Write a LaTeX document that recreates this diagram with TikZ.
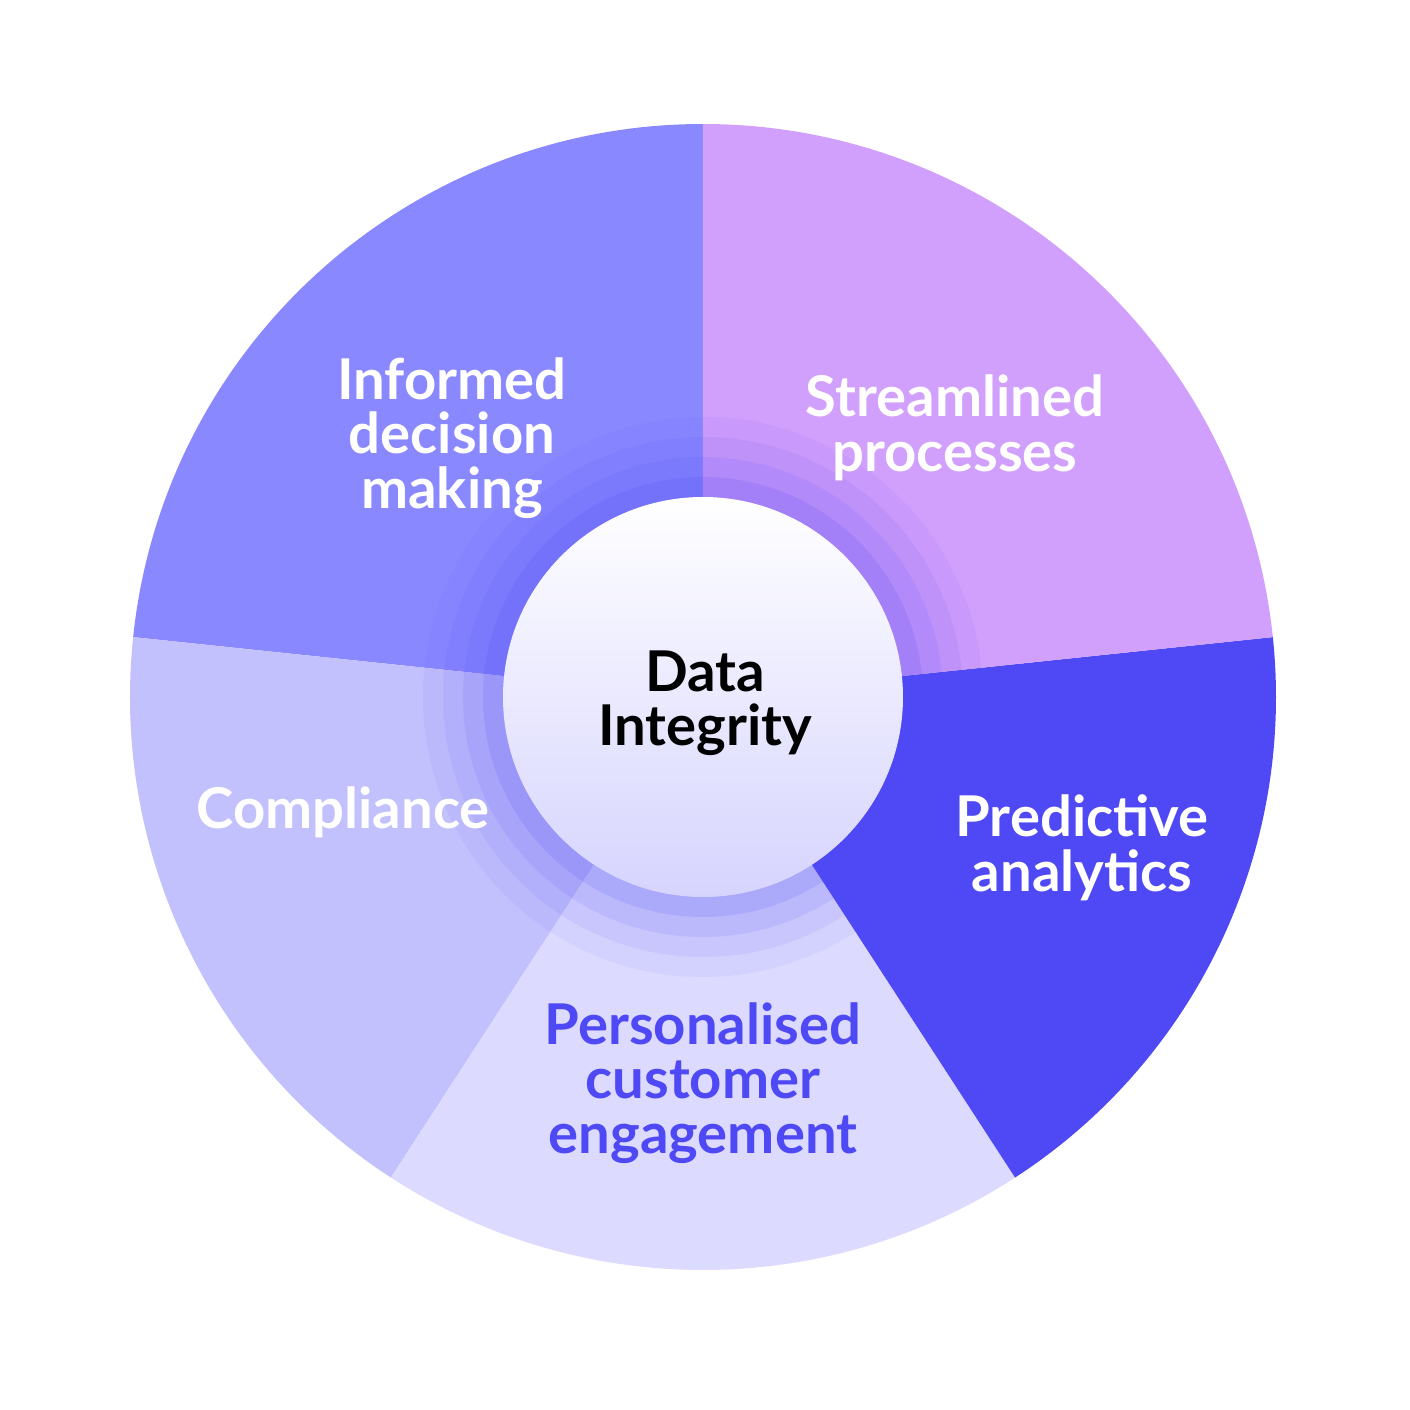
\documentclass[tikz,border=0pt]{standalone}
\usepackage{fontspec}
\setmainfont{Lato}
\usetikzlibrary{shapes}
\definecolor{informed}{HTML}{8A88FF}
\definecolor{stream}{HTML}{D19FFC}
\definecolor{predict}{HTML}{4F48F5}
\definecolor{person}{HTML}{DCDAFE}
\definecolor{comply}{HTML}{C2C0FD}
\definecolor{hub}{HTML}{D6D4FE}
\begin{document}
\begin{tikzpicture}[label/.style={text=white,font=\fontsize{16}{15.5}\selectfont\bfseries,align=center}]
\useasboundingbox (0,0) rectangle (14.1,14.1);
\coordinate (O) at (7.03,7.13);
\fill[informed] (O) -- ++(90:5.73) arc (90:174:5.73) -- cycle;
\fill[comply] (O) -- ++(174:5.73) arc (174:237:5.73) -- cycle;
\fill[person] (O) -- ++(237:5.73) arc (237:303:5.73) -- cycle;
\fill[predict] (O) -- ++(303:5.73) arc (303:366:5.73) -- cycle;
\fill[stream] (O) -- ++(6:5.73) arc (6:90:5.73) -- cycle;
% glow round the hub
\foreach \r/\o in {2.8/0.06,2.6/0.08,2.4/0.1,2.2/0.14}
  \fill[predict,opacity=\o] (O) circle (\r);
\shade[top color=white,bottom color=hub] (O) circle (2.0);
\node[label] (informed) at (4.52,9.72) {Informed\\decision\\making};
\node[label] (stream) at (9.55,9.82) {Streamlined\\processes};
\node[label] (predict) at (10.82,5.62) {Predictive\\analytics};
\node[label,text=predict] (person) at (7.03,3.27) {Personalised\\customer\\engagement};
\node[label] (comply) at (3.43,5.98) {Compliance};
\node[label,text=black] (hub) at (7.05,7.07) {Data\\Integrity};
\end{tikzpicture}
\end{document}
